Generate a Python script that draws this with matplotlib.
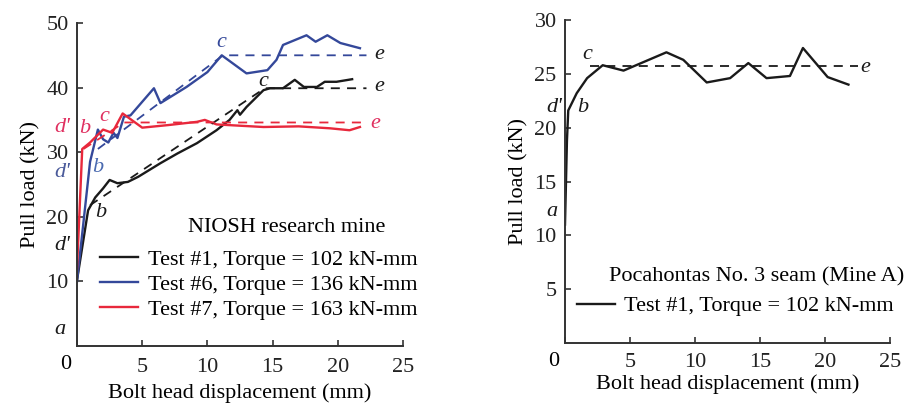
import matplotlib
matplotlib.use("Agg")
import matplotlib.pyplot as plt

plt.rcParams['font.family'] = ['Liberation Serif', 'DejaVu Serif']
plt.rcParams['font.size'] = 16

# ---- left panel: NIOSH research mine ----
t1_x = [0, 0.85, 1.4, 2.0, 2.5, 3.1, 3.9, 4.7, 6.4, 7.7, 9.2, 10.7, 11.7, 12.3, 12.5, 13.0,
        14.3, 14.8, 15.8, 16.7, 17.4, 18.4, 19.0, 19.9, 21.1]
t1_y = [10.2, 21.0, 23.0, 24.4, 25.7, 25.2, 25.4, 26.2, 28.3, 29.8, 31.4, 33.4, 35.0, 36.5, 35.8, 37.0,
        39.6, 39.9, 39.9, 41.2, 40.1, 40.1, 40.9, 40.9, 41.3]

t6_x = [0, 1.0, 1.3, 1.6, 2.0, 2.4, 2.8, 3.1, 3.6, 4.1, 5.9, 6.4, 8.4, 10.0, 11.1, 13.0,
        14.6, 15.3, 15.8, 17.6, 18.3, 19.2, 20.2, 21.7]
t6_y = [10.0, 28.5, 31.0, 33.5, 32.0, 31.5, 33.0, 32.2, 35.5, 35.7, 39.9, 37.6, 40.1, 42.4, 45.0, 42.2,
        42.7, 44.3, 46.6, 48.1, 47.1, 48.1, 46.9, 46.1]

t7_x = [0, 0.4, 1.0, 2.0, 2.7, 3.5, 5.0, 7.0, 9.2, 9.8, 10.7, 14.3, 17.0, 19.4, 20.9, 21.7]
t7_y = [12.0, 30.5, 31.5, 33.5, 33.0, 36.0, 33.8, 34.2, 34.7, 35.0, 34.3, 33.9, 34.0, 33.7, 33.4, 33.9]

# idealised (dashed) curves: b -> c -> e
t1_ideal_x = [1.0, 14.4, 22.2]
t1_ideal_y = [21.8, 39.9, 39.9]
t6_ideal_x = [1.6, 11.2, 22.2]
t6_ideal_y = [30.5, 45.0, 45.0]
t7_ideal_x = [0.5, 3.6, 22.2]
t7_ideal_y = [30.5, 34.6, 34.6]

left_labels = ["Test #1, Torque = 102 kN-mm", "Test #6, Torque = 136 kN-mm",
               "Test #7, Torque = 163 kN-mm"]

# ---- right panel: Pocahontas No. 3 seam ----
pa_x = [0, 0.15, 0.25, 0.9, 1.7, 2.9, 4.5, 7.8, 9.1, 10.9, 12.7, 14.1, 15.5, 17.3, 18.3, 20.2, 21.8]
pa_y = [11.0, 18.8, 21.6, 23.2, 24.6, 25.8, 25.3, 27.0, 26.3, 24.2, 24.6, 26.0, 24.6, 24.8, 27.4, 24.7, 24.0]
pa_ideal_x = [1.9, 22.5]
pa_ideal_y = [25.7, 25.7]

BLACK = '#1a1a1a'
BLUE = '#34489a'
RED = '#e8283c'
AXC = '#333333'


def style_axes(ax, ymax, ystep, xpad, xlabelpad):
    for s in ['top', 'right']:
        ax.spines[s].set_visible(False)
    for s in ['left', 'bottom']:
        ax.spines[s].set_color(AXC)
        ax.spines[s].set_linewidth(1.4)
    ax.set_xlim(0, 25)
    ax.set_ylim(0, ymax)
    ax.set_xticks([0, 5, 10, 15, 20, 25])
    ax.set_xticklabels(['', '5', '10', '15', '20', '25'])
    ax.set_yticks(list(range(ystep, ymax + 1, ystep)))
    ax.tick_params(direction='in', length=4, width=1.2, colors=AXC, labelcolor='#222222', pad=6)
    ax.tick_params(axis='x', pad=xpad)
    ax.set_xlabel("Bolt head displacement (mm)", labelpad=xlabelpad)
    ax.set_ylabel("Pull load (kN)", labelpad=4)
    ax.text(-0.035, -0.058, "0", transform=ax.transAxes, ha='center', va='center')


def lab(ax, x, y, s, c=BLACK):
    ax.text(x, y, s, style='italic', color=c, ha='center', va='center', clip_on=False)


fig = plt.figure(figsize=(9.19, 4.05), dpi=100)
fig.patch.set_facecolor('white')

ax1 = fig.add_axes([0.0838, 0.1457, 0.3547, 0.7975])
style_axes(ax1, 50, 10, 9, 4)
l1, = ax1.plot(t1_x, t1_y, color=BLACK, lw=1.7)
l6, = ax1.plot(t6_x, t6_y, color=BLUE, lw=1.7)
l7, = ax1.plot(t7_x, t7_y, color=RED, lw=1.7)
ax1.plot(t1_ideal_x, t1_ideal_y, color=BLACK, lw=1.3, ls=(0, (5, 4)))
ax1.plot(t6_ideal_x, t6_ideal_y, color=BLUE, lw=1.3, ls=(0, (5, 4)))
ax1.plot(t7_ideal_x, t7_ideal_y, color=RED, lw=1.3, ls=(0, (5, 4)))

lab(ax1, -1.3, 2.5, "a")
lab(ax1, -1.1, 15.6, "d'")
lab(ax1, 1.8, 20.6, "b")
lab(ax1, -1.1, 26.8, "d'", '#4a5a9a')
lab(ax1, 1.6, 27.7, "b", '#4a6ab0')
lab(ax1, -1.1, 33.9, "d'", '#e03060')
lab(ax1, 0.6, 33.7, "b", '#e03060')
lab(ax1, 2.1, 35.6, "c", '#e03060')
lab(ax1, 11.1, 47.0, "c", BLUE)
lab(ax1, 14.3, 41.0, "c")
lab(ax1, 23.2, 40.2, "e")
lab(ax1, 23.2, 45.1, "e")
lab(ax1, 22.9, 34.4, "e", '#e03060')

ax1.text(0.644, 0.368, "NIOSH research mine", transform=ax1.transAxes, ha='center', va='center')
ax1.legend([l1, l6, l7], left_labels, loc='upper left', bbox_to_anchor=(0.07, 0.30),
           frameon=False, borderpad=0, borderaxespad=0, handlelength=1.7,
           handletextpad=0.45, labelspacing=0.2)

ax2 = fig.add_axes([0.6148, 0.1531, 0.3537, 0.7975])
style_axes(ax2, 30, 5, 7, 2)
lp, = ax2.plot(pa_x, pa_y, color=BLACK, lw=1.7)
ax2.plot(pa_ideal_x, pa_ideal_y, color=BLACK, lw=1.3, ls=(0, (5, 4)))
lab(ax2, -1.0, 12.2, "a")
lab(ax2, -0.8, 21.9, "d'")
lab(ax2, 1.4, 21.9, "b")
lab(ax2, 1.7, 26.8, "c")
lab(ax2, 23.1, 25.6, "e")

ax2.text(0.588, 0.204, "Pocahontas No. 3 seam (Mine A)", transform=ax2.transAxes,
         ha='center', va='center')
ax2.legend([lp], ["Test #1, Torque = 102 kN-mm"], loc='upper left', bbox_to_anchor=(0.037, 0.146),
           frameon=False, borderpad=0, borderaxespad=0, handlelength=1.7,
           handletextpad=0.4)

fig.savefig("out.png", dpi=100, facecolor='white')
